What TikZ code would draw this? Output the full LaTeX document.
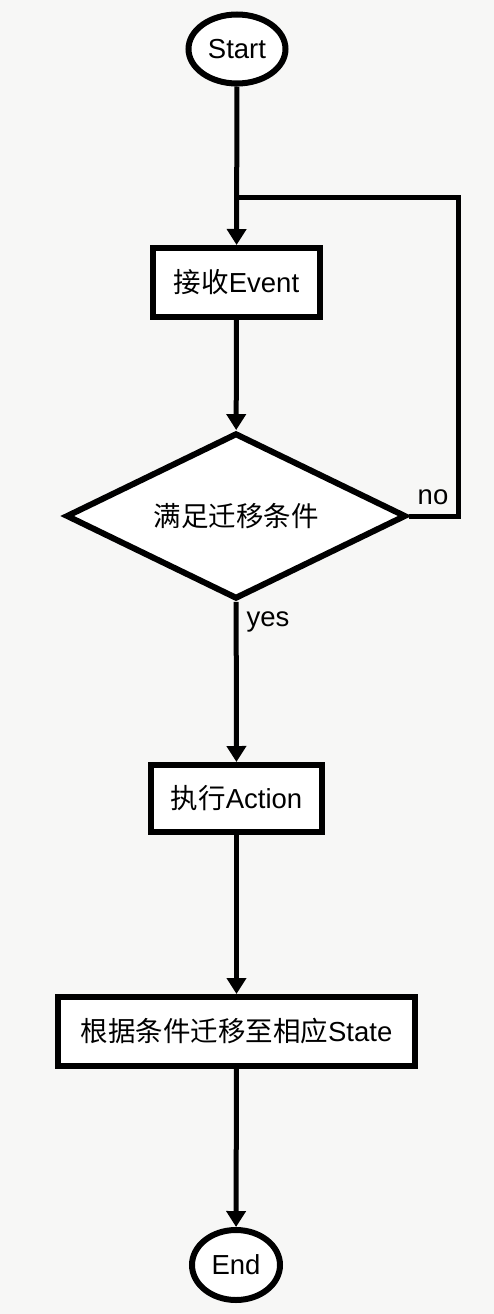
\documentclass[tikz,border=0pt]{standalone}
\usepackage{fontspec}
\setmainfont{Liberation Sans}
\newfontfamily\cjk{Noto Sans CJK SC}
\usetikzlibrary{shapes.geometric,arrows.meta}
\definecolor{paper}{HTML}{F7F7F6}
\tikzset{
    base/.style={draw=black, line width=6pt, fill=white, inner sep=0pt,
        font=\fontsize{27.5}{32}\selectfont},
    terminal/.style={base, ellipse, minimum width=97pt, minimum height=69pt},
    process/.style={base, rectangle, minimum height=69pt},
    decision/.style={base, diamond, aspect=2, minimum width=340pt, minimum height=166pt},
    flow/.style={line width=5pt, -{Triangle[width=19pt,length=16pt]}},
    lbl/.style={font=\fontsize{27.5}{32}\selectfont}
}
\begin{document}
\begin{tikzpicture}[x=1pt,y=1pt]
    \fill[paper] (0,0) rectangle (494,-1314);
    \useasboundingbox (0,0) rectangle (494,-1314);

    \node[terminal] (start) at (237,-49) {Start};
    \node[process, minimum width=167pt] (event) at (236.5,-282.5) {{\cjk 接收}Event};
    \node[decision] (cond) at (236,-516) {\cjk 满足迁移条件};
    \node[process, minimum width=171pt, minimum height=67pt] (action) at (236.5,-798.5) {{\cjk 执行}Action};
    \node[process, minimum width=357pt] (state) at (236.5,-1031.5) {{\cjk 根据条件迁移至相应}State};
    \node[terminal, minimum width=88pt, minimum height=70pt] (end) at (236,-1265) {End};

    \coordinate (join) at (237,-197);
    \coordinate (back) at (458,-197);

    \draw[flow] (start) -- (event);
    \draw[line width=5pt] (cond.east) -| (back) -- (join);
    \draw[flow] (event) -- (cond);
    \draw[flow] (cond) -- (action);
    \draw[flow] (action) -- (state);
    \draw[flow] (state) -- (end);

    \node[lbl] (no) at (433,-497) {no};
    \node[lbl] (yes) at (268,-622) {yes};
\end{tikzpicture}
\end{document}
